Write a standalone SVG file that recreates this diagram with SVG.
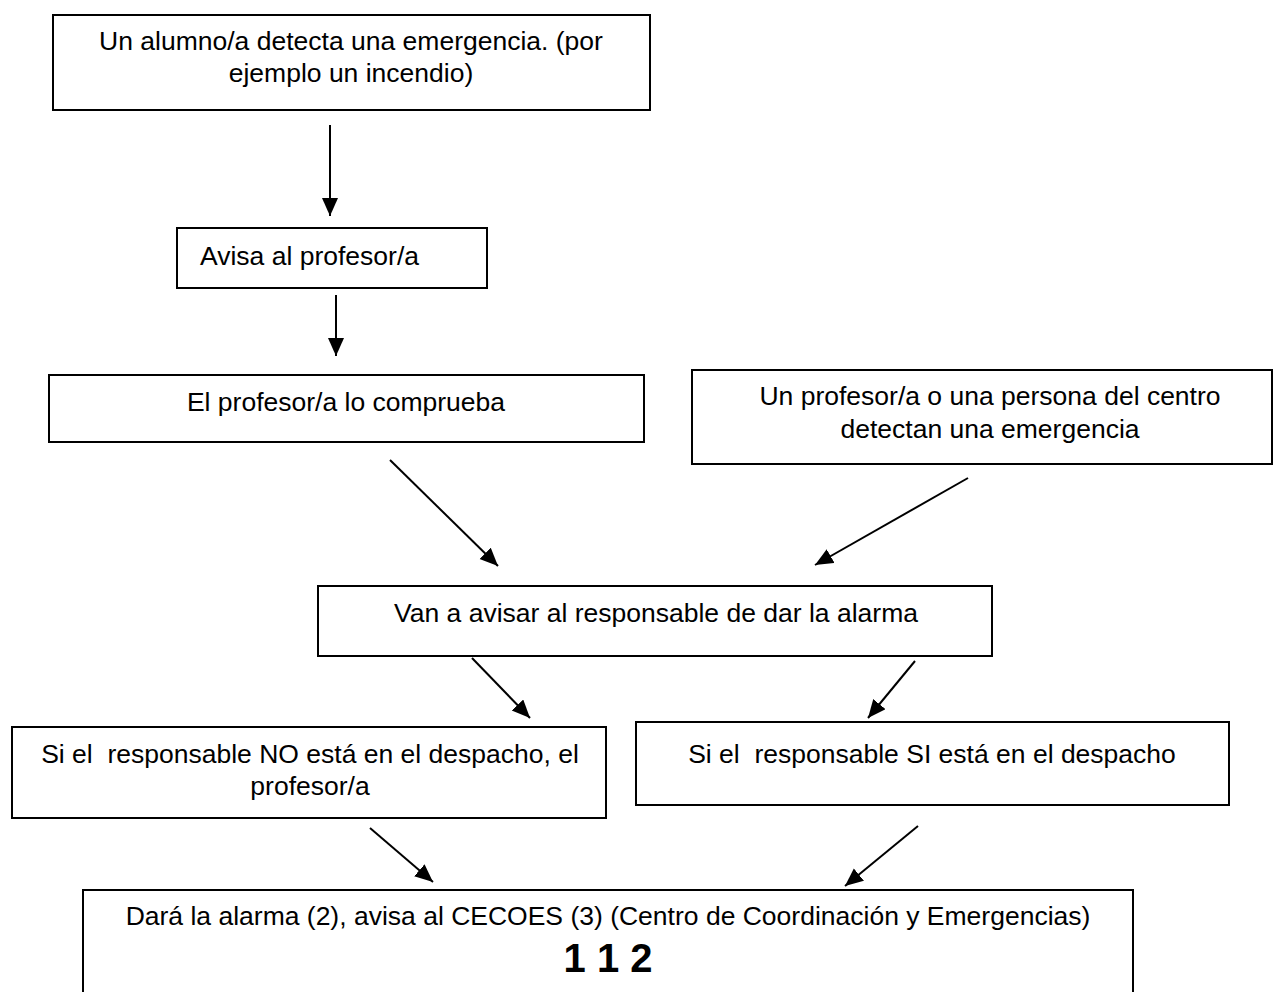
<svg xmlns="http://www.w3.org/2000/svg" width="1274" height="992" viewBox="0 0 1274 992">
<style>
.box{fill:#fff;stroke:#000;stroke-width:2}
.t{font-family:"Liberation Sans",Arial,sans-serif;font-size:26.5px;fill:#000;text-anchor:middle}
.b{font-family:"Liberation Sans",Arial,sans-serif;font-size:40px;font-weight:bold;fill:#000;text-anchor:middle}
.c{stroke:#000;stroke-width:2;fill:none;marker-end:url(#ah)}
</style>
<defs>
<marker id="ah" markerUnits="userSpaceOnUse" markerWidth="19" markerHeight="18" refX="18" refY="8" orient="auto">
<path d="M0,0 L18,8 L0,16 z" fill="#000"/>
</marker>
</defs>
<rect width="1274" height="992" fill="#fff"/>
<g id="n1"><rect class="box" x="53" y="15" width="597" height="95"/>
<text class="t" x="351" y="50">Un alumno/a detecta una emergencia. (por</text>
<text class="t" x="351" y="82">ejemplo un incendio)</text></g>
<g id="n2"><rect class="box" x="177" y="228" width="310" height="60"/>
<text class="t" x="200" y="265" style="text-anchor:start">Avisa al profesor/a</text></g>
<g id="n3"><rect class="box" x="49" y="375" width="595" height="67"/>
<text class="t" x="346" y="411">El profesor/a lo comprueba</text></g>
<g id="n4"><rect class="box" x="692" y="370" width="580" height="94"/>
<text class="t" x="990" y="405">Un profesor/a o una persona del centro</text>
<text class="t" x="990" y="438">detectan una emergencia</text></g>
<g id="n5"><rect class="box" x="318" y="586" width="674" height="70"/>
<text class="t" x="656" y="622">Van a avisar al responsable de dar la alarma</text></g>
<g id="n6"><rect class="box" x="12" y="727" width="594" height="91"/>
<text class="t" x="310" y="763" xml:space="preserve">Si el  responsable NO está en el despacho, el</text>
<text class="t" x="310" y="795">profesor/a</text></g>
<g id="n7"><rect class="box" x="636" y="722" width="593" height="83"/>
<text class="t" x="932" y="763" xml:space="preserve">Si el  responsable SI está en el despacho</text></g>
<g id="n8"><rect class="box" x="83" y="890" width="1050" height="120"/>
<text class="t" x="608" y="925">Dará la alarma (2), avisa al CECOES (3) (Centro de Coordinación y Emergencias)</text>
<text class="b" x="608" y="972" xml:space="preserve">1 1 2</text></g>
<g id="connectors">
<line class="c" x1="330" y1="125" x2="330" y2="216"/>
<line class="c" x1="336" y1="295" x2="336" y2="356"/>
<line class="c" x1="390" y1="460" x2="498" y2="566"/>
<line class="c" x1="968" y1="478" x2="815" y2="565"/>
<line class="c" x1="472" y1="658" x2="530" y2="718"/>
<line class="c" x1="915" y1="661" x2="868" y2="718"/>
<line class="c" x1="370" y1="828" x2="433" y2="882"/>
<line class="c" x1="918" y1="826" x2="845" y2="886"/>
</g>
</svg>
